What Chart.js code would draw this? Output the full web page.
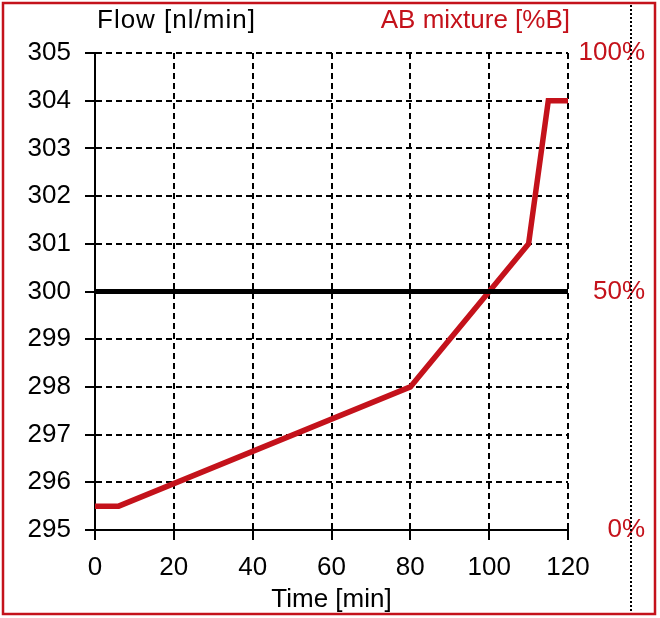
<!DOCTYPE html>
<html>
<head>
<meta charset="utf-8">
<script src="https://cdn.jsdelivr.net/npm/chart.js@4/dist/chart.umd.min.js"></script>
<style>
  html, body { margin: 0; padding: 0; background: #fff; }
  #wrap { width: 660px; height: 618px; }
</style>
</head>
<body>
<div id="wrap"><canvas id="chart" width="660" height="618"></canvas></div>
<script>
// time axis [min]
const flowTimes = [0, 120];
const flowValues = [300, 300];           // nl/min
const mixTimes = [0, 6, 80, 110, 115, 120];
const mixValues = [5, 5, 30, 60, 90, 90]; // %B
const mixTicks = [0, 50, 100];

const RED = '#c4121b';
const FONT = 'Liberation Sans, Arial, sans-serif';

const toPoints = (xs, ys) => xs.map((x, i) => ({ x: x, y: ys[i] }));

// frame, dotted separator and the two headers
const decorations = {
  id: 'decorations',
  afterDraw(chart) {
    const ctx = chart.ctx;
    ctx.save();
    ctx.strokeStyle = RED;
    ctx.lineWidth = 2.5;
    ctx.strokeRect(3, 3, 652, 611);

    ctx.strokeStyle = '#000';
    ctx.lineWidth = 2;
    ctx.setLineDash([2, 2]);
    ctx.beginPath();
    ctx.moveTo(631, 5);
    ctx.lineTo(631, 612);
    ctx.stroke();
    ctx.setLineDash([]);

    ctx.font = '26px ' + FONT;
    ctx.textBaseline = 'middle';
    ctx.textAlign = 'left';
    ctx.fillStyle = '#000';
    ctx.letterSpacing = '1px';
    ctx.fillText('Flow [nl/min]', 97, 21);
    ctx.letterSpacing = '0px';
    ctx.textAlign = 'right';
    ctx.fillStyle = RED;
    ctx.fillText('AB mixture [%B]', 570, 21);
    ctx.restore();
  }
};

new Chart(document.getElementById('chart'), {
  type: 'line',
  data: {
    datasets: [
      {
        label: 'Flow',
        data: toPoints(flowTimes, flowValues),
        yAxisID: 'y',
        borderColor: '#000',
        borderWidth: 5,
        pointRadius: 0,
        tension: 0
      },
      {
        label: 'AB mixture',
        data: toPoints(mixTimes, mixValues),
        yAxisID: 'y2',
        borderColor: RED,
        borderWidth: 5.5,
        pointRadius: 0,
        tension: 0
      }
    ]
  },
  options: {
    responsive: false,
    animation: false,
    layout: { padding: { left: 0, top: 53, right: 15, bottom: 0 } },
    plugins: { legend: { display: false }, tooltip: { enabled: false } },
    scales: {
      x: {
        type: 'linear',
        min: 0,
        max: 120,
        ticks: { stepSize: 20, color: '#000', padding: 12, font: { family: FONT, size: 26 } },
        grid: { color: '#000', lineWidth: 2, tickLength: 10, tickColor: '#000', tickWidth: 2, tickBorderDash: [] },
        border: { display: true, color: '#000', width: 2, dash: [6, 4] },
        title: { display: true, text: 'Time [min]', color: '#000', padding: { top: 0, bottom: 3 }, font: { family: FONT, size: 26 } },
        afterFit(scale) { scale.height = 88; }
      },
      y: {
        position: 'left',
        min: 295,
        max: 305,
        ticks: { stepSize: 1, color: '#000', padding: 14, font: { family: FONT, size: 26 } },
        grid: { color: '#000', lineWidth: 2, tickLength: 10, tickColor: '#000', tickWidth: 2, tickBorderDash: [] },
        border: { display: true, color: '#000', width: 2, dash: [6, 4] },
        afterFit(scale) { scale.width = 95; }
      },
      y2: {
        position: 'right',
        min: 0,
        max: 100,
        afterBuildTicks(scale) { scale.ticks = mixTicks.map(v => ({ value: v })); },
        ticks: {
          color: RED,
          padding: 11,
          crossAlign: 'far',
          font: { family: FONT, size: 26 },
          callback: v => v + '%'
        },
        grid: { display: false },
        border: { display: false },
        afterFit(scale) { scale.width = 77; }
      }
    }
  },
  plugins: [decorations]
});
</script>
</body>
</html>
